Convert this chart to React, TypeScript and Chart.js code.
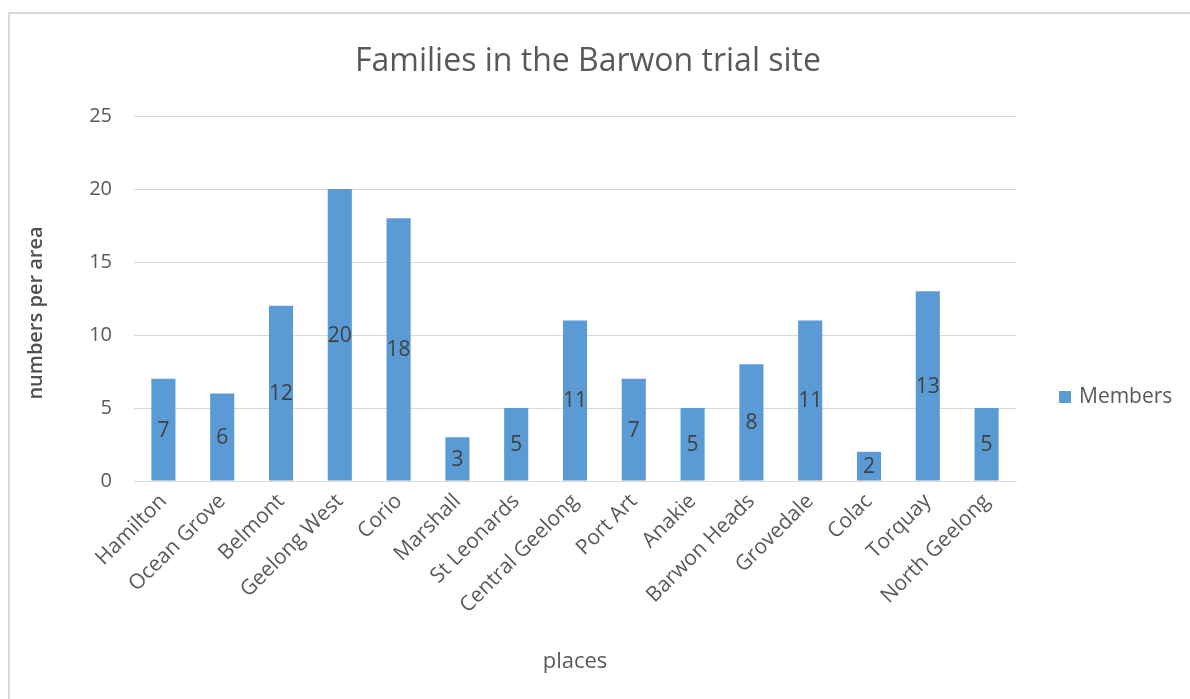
import React, { useEffect, useRef } from "react";
import { Chart, registerables } from "chart.js";

Chart.register(...registerables);

const chartTitle = "Families in the Barwon trial site";
const xTitle = "places";
const yTitle = "numbers per area";
const seriesName = "Members";
const categories = [
  "Hamilton",
  "Ocean Grove",
  "Belmont",
  "Geelong West",
  "Corio",
  "Marshall",
  "St Leonards",
  "Central Geelong",
  "Port Art",
  "Anakie",
  "Barwon Heads",
  "Grovedale",
  "Colac",
  "Torquay",
  "North Geelong",
];
const members = [7, 6, 12, 20, 18, 3, 5, 11, 7, 5, 8, 11, 2, 13, 5];
const yMin = 0;
const yMax = 25;
const yStep = 5;

const FONT = "'Open Sans', 'DejaVu Sans', sans-serif";
const BAR = "#5B9BD5";
const GRAY = "#595959";
const GRID = "#d9d9d9";

const dataLabels = {
  id: "dataLabels",
  afterDatasetsDraw(chart: any) {
    const ctx = chart.ctx;
    const meta = chart.getDatasetMeta(0);
    const ds = chart.data.datasets[0];
    ctx.save();
    ctx.font = `21px ${FONT}`;
    ctx.fillStyle = "#404040";
    ctx.textAlign = "center";
    ctx.textBaseline = "middle";
    meta.data.forEach((bar: any, i: number) => {
      const { x, y, base } = bar.getProps(["x", "y", "base"], true);
      ctx.fillText(String(ds.data[i]), x, (y + base) / 2 + 1);
    });
    ctx.restore();
  },
};

const decorations = {
  id: "decorations",
  afterDraw(chart: any) {
    const ctx = chart.ctx;
    const ds = chart.data.datasets[0];
    const area = chart.chartArea;
    ctx.save();
    // chart title
    ctx.font = `32px ${FONT}`;
    ctx.fillStyle = GRAY;
    ctx.textAlign = "center";
    ctx.textBaseline = "alphabetic";
    ctx.fillText(chartTitle, 588, 71);
    // y axis title
    ctx.save();
    ctx.translate(36, 313);
    ctx.rotate(-Math.PI / 2);
    ctx.font = `600 20px ${FONT}`;
    ctx.fillStyle = "#505050";
    ctx.textAlign = "center";
    ctx.textBaseline = "middle";
    ctx.fillText(yTitle, 0, 0);
    ctx.restore();
    // legend
    const lx = area.right + 43;
    const ly = 397;
    ctx.fillStyle = ds.backgroundColor;
    ctx.fillRect(lx, ly - 6, 12, 12);
    ctx.font = `21px ${FONT}`;
    ctx.fillStyle = GRAY;
    ctx.textAlign = "left";
    ctx.textBaseline = "middle";
    ctx.fillText(ds.label, lx + 20, ly);
    ctx.restore();
  },
};

export default function App() {
  const ref = useRef<HTMLCanvasElement | null>(null);

  useEffect(() => {
    if (!ref.current) return;
    const chart = new Chart(ref.current, {
      type: "bar",
      data: {
        labels: categories,
        datasets: [
          {
            label: seriesName,
            data: members,
            backgroundColor: BAR,
            barPercentage: 0.41,
            categoryPercentage: 1,
          },
        ],
      },
      options: {
        animation: false,
        responsive: false,
        maintainAspectRatio: false,
        layout: { padding: { left: 0, right: 174, top: 116, bottom: 0 } },
        plugins: {
          legend: { display: false },
          tooltip: { enabled: false },
          title: { display: false },
        },
        scales: {
          x: {
            grid: { display: false, drawTicks: false },
            border: { display: true, color: GRID, width: 1 },
            ticks: {
              color: GRAY,
              font: { family: FONT, size: 21 },
              minRotation: 45,
              maxRotation: 45,
              padding: 8,
              autoSkip: false,
            },
            title: {
              display: true,
              text: xTitle,
              color: GRAY,
              font: { family: FONT, size: 22 },
              padding: { top: 0, bottom: 24 },
            },
            afterFit(scale: any) {
              scale.height = 218;
            },
          },
          y: {
            min: yMin,
            max: yMax,
            grid: { color: GRID, drawTicks: false, lineWidth: 1 },
            border: { display: false },
            ticks: {
              stepSize: yStep,
              color: GRAY,
              font: { family: FONT, size: 20 },
              padding: 22,
            },
            afterFit(scale: any) {
              scale.width = 134;
            },
          },
        },
      },
      plugins: [dataLabels, decorations],
    });
    return () => chart.destroy();
  }, []);

  return (
    <div
      style={{
        position: "fixed",
        left: 0,
        top: 0,
        width: 1190,
        height: 699,
        overflow: "hidden",
        background: "#fff",
      }}
    >
      <div
        style={{
          position: "absolute",
          left: 8,
          top: 12,
          width: 1220,
          height: 720,
          border: "2px solid #d9d9d9",
          boxSizing: "border-box",
        }}
      />
      <canvas
        ref={ref}
        width={1190}
        height={699}
        style={{ position: "absolute", left: 0, top: 0, width: 1190, height: 699 }}
      />
    </div>
  );
}
